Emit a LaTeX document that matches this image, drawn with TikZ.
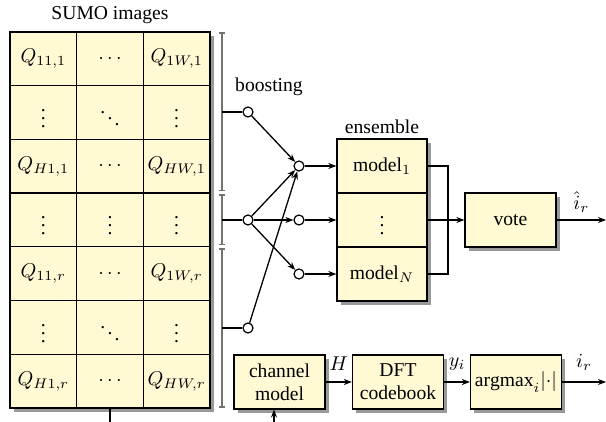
\documentclass[tikz,border=0pt]{standalone}
\usepackage{fontspec}
\setmainfont{Liberation Serif}
\usetikzlibrary{arrows.meta}
\definecolor{cellfill}{RGB}{255,249,212}
\begin{document}
\begin{tikzpicture}[x=0.5pt,y=-0.5pt,
  font=\fontsize{9.8}{11.5}\selectfont,
  box/.style={draw, line width=0.65pt, fill=cellfill, inner sep=0pt, align=center},
  cell/.style={box, minimum width=33.33pt, minimum height=26.86pt},
  block/.style={box, minimum width=45.5pt, minimum height=26.86pt},
  shade/.style={fill=black!40},
  ring/.style={circle, draw, line width=0.6pt, minimum size=5pt, inner sep=0pt},
  link/.style={line width=0.65pt},
  arr/.style={link, -{Stealth[length=4pt,width=3pt]}},
  gauge/.style={draw=black!55, line width=0.8pt, {Bar[width=3pt]}-{Bar[width=3pt]}}]
\useasboundingbox (0,0) rectangle (606,422);

% drop shadows of the blocks
\fill[shade] (14,36) rectangle (214,412);
\fill[shade] (341,143) rectangle (431,305);
\fill[shade] (469,197) rectangle (560,251);
\fill[shade] (238,359) rectangle (329,413);
\fill[shade] (356,359) rectangle (447,413);
\fill[shade] (474,359) rectangle (565,413);

% image grid
\foreach \r/\a/\b/\c in {
  1/{$Q_{11,1}$}/{$\cdots$}/{$Q_{1W,1}$},
  2/{$\vdots$}/{$\ddots$}/{$\vdots$},
  3/{$Q_{H1,1}$}/{$\cdots$}/{$Q_{HW,1}$},
  4/{$\vdots$}/{$\vdots$}/{$\vdots$},
  5/{$Q_{11,r}$}/{$\cdots$}/{$Q_{1W,r}$},
  6/{$\vdots$}/{$\ddots$}/{$\vdots$},
  7/{$Q_{H1,r}$}/{$\cdots$}/{$Q_{HW,r}$}}{
  \node[cell] (q\r-1) at (43.33, {32+(\r-0.5)*53.71}) {\a};
  \node[cell] (q\r-2) at (110, {32+(\r-0.5)*53.71}) {\b};
  \node[cell] (q\r-3) at (176.67, {32+(\r-0.5)*53.71}) {\c};
}
\node (sumo) at (110,15) {SUMO images};
\coordinate (gridout) at (110,422);
\draw[link] (q7-2.south) -- (gridout);

% extent markers of the three image groups
\coordinate (t0) at (222,32);
\coordinate (t1a) at (222,191.5);
\coordinate (t1b) at (222,194.5);
\coordinate (t2a) at (222,245.5);
\coordinate (t2b) at (222,248.5);
\coordinate (t3) at (222,408);
\draw[gauge] (t0) -- (t1a);
\draw[gauge] (t1b) -- (t2a);
\draw[gauge] (t2b) -- (t3);
\coordinate (g1) at (222,112);
\coordinate (g2) at (222,220);
\coordinate (g3) at (222,328);

% boosting
\node (boost) at (269,87) {boosting};
\node[ring] (b1) at (248,112) {};
\node[ring] (b2) at (248,220) {};
\node[ring] (b3) at (248,328) {};
\node[ring] (c1) at (299,166) {};
\node[ring] (c2) at (299,220) {};
\node[ring] (c3) at (299,274) {};
\draw[link] (g1) -- (b1);
\draw[link] (g2) -- (b2);
\draw[link] (g3) -- (b3);
\draw[arr] (b1) -- (c1);
\draw[arr] (b2) -- (c1);
\draw[arr] (b2) -- (c2);
\draw[arr] (b2) -- (c3);
\draw[arr] (b3) -- (c1);

% ensemble
\node (ens) at (382,127) {ensemble};
\node[block, minimum width=45pt] (m1) at (382,166) {model$_1$};
\node[block, minimum width=45pt] (m2) at (382,220) {$\vdots$};
\node[block, minimum width=45pt] (m3) at (382,274) {model$_N$};
\draw[arr] (c1) -- (m1);
\draw[arr] (c2) -- (m2);
\draw[arr] (c3) -- (m3);

% voting
\node[block] (vote) at (510.5,220) {vote};
\coordinate (join) at (448,220);
\draw[link] (m1.east) -| (join);
\draw[link] (m3.east) -| (join);
\draw[arr] (m2.east) -- (vote.west);
\coordinate (out1) at (606,220);
\draw[arr] (vote) -- (out1) node[midway, above=0pt] {$\hat{i}_r$};

% reference chain
\node[block] (ch) at (279.5,382) {channel\\model};
\node[block] (dft) at (398,382) {DFT\\codebook};
\node[block] (amax) at (516,382) {$\mathrm{argmax}_i|{\cdot}|$};
\draw[arr] (ch) -- (dft) node[midway, above=2pt] {$H$};
\draw[arr] (dft) -- (amax) node[midway, above=2pt] {$y_i$};
\coordinate (out2) at (606,382);
\draw[arr] (amax) -- (out2) node[midway, above=2pt] {$i_r$};
\coordinate (chin) at (274,422);
\draw[arr] (chin) -- (ch.south -| chin);
\end{tikzpicture}
\end{document}
